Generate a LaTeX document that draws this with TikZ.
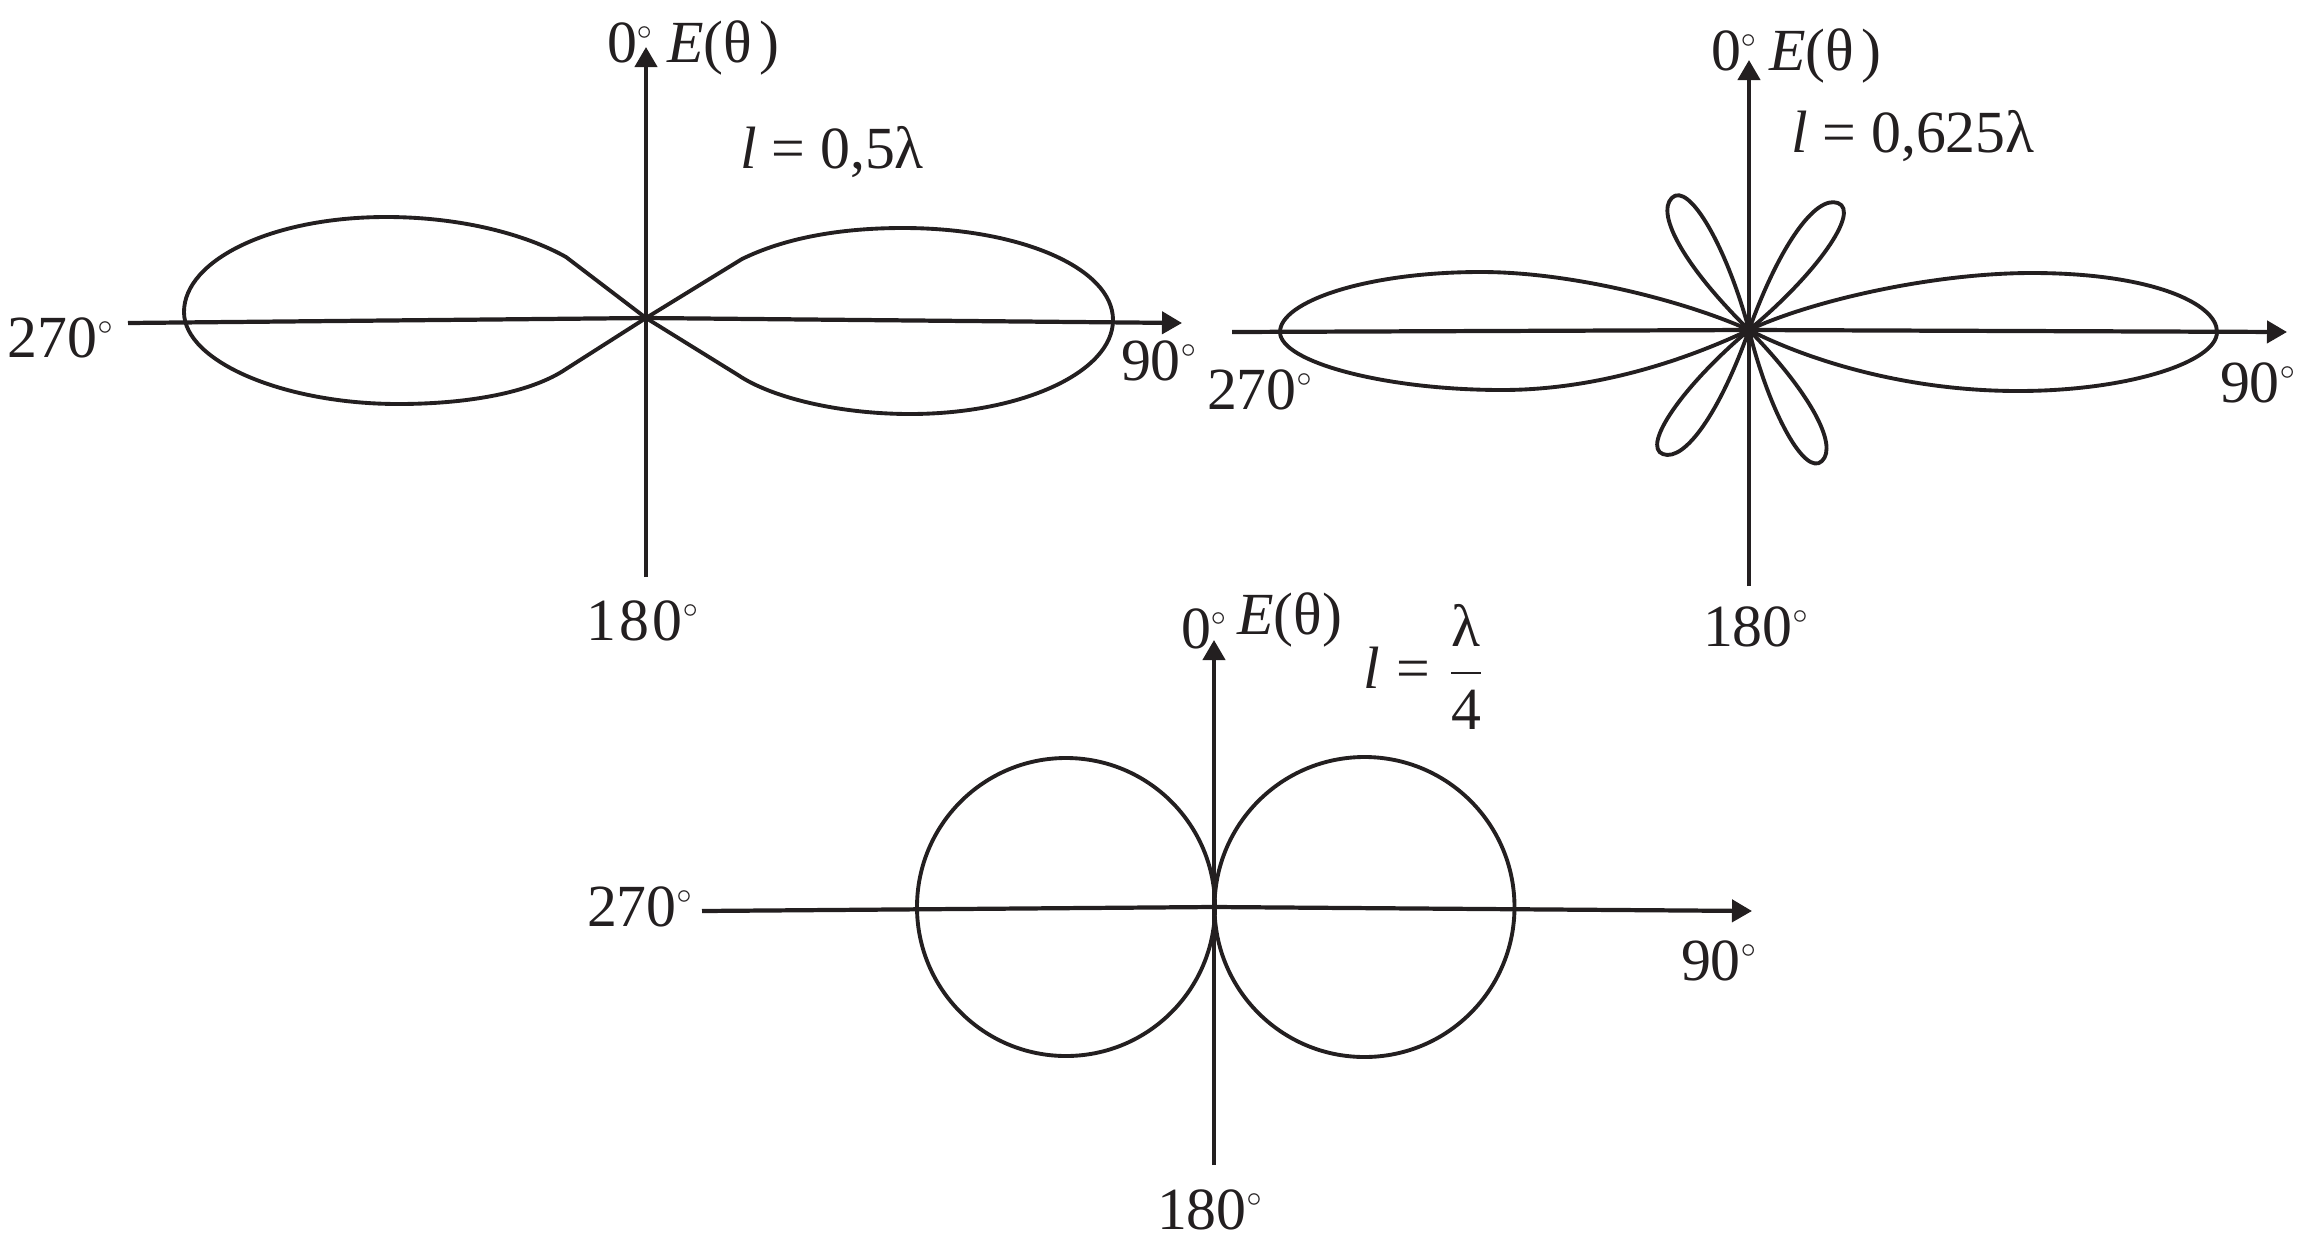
\documentclass[tikz,border=0pt]{standalone}
\usepackage{fontspec}
\setmainfont{Liberation Serif}
\usetikzlibrary{arrows.meta}
\definecolor{ink}{RGB}{35,31,32}
\newcommand{\dg}{$^{\scriptscriptstyle\circ}$}
\tikzset{
  axisline/.style={draw=ink, line width=1.2pt},
  axisarrow/.style={axisline, -{Triangle[length=0.2cm,width=0.22cm]}},
  lobe/.style={draw=ink, line width=1.1pt, line join=round},
  lbl/.style={inner sep=0pt, outer sep=0pt, anchor=base west, text=ink,
    font=\fontsize{17pt}{20pt}\selectfont},
  pics/petal/.style={code={
    \draw[lobe] (0,0) .. controls (0.55,0.15) and (1.04,0.15) .. (1,0)
                      .. controls (0.96,-0.15) and (0.55,-0.15) .. (0,0);}},
}
\begin{document}
\begin{tikzpicture}[x=0.01cm,y=-0.01cm]
\useasboundingbox (0,0) rectangle (2302,1239);

% ================= Panel 1 : l = 0,5 lambda =================
\coordinate (c1) at (646,318);
\coordinate (l1) at (128,323);
\coordinate (r1) at (1182,323);
\coordinate (t1) at (646,47);
\coordinate (b1) at (646,577);
\draw[axisarrow] (b1) -- (t1);
\draw[axisarrow] (l1) -- (c1) -- (r1);

\draw[lobe] (c1) -- (566,257)
  .. controls (525,234) and (460,217) .. (386,217)
  .. controls (272,217) and (184,260) .. (184,312)
  .. controls (184,362) and (285,404) .. (398,404)
  .. controls (470,404) and (532,392) .. (566,369) -- (c1);
\draw[lobe] (c1) -- (742,259)
  .. controls (785,238) and (840,228) .. (903,228)
  .. controls (1020,228) and (1113,268) .. (1113,320)
  .. controls (1113,372) and (1022,414) .. (910,414)
  .. controls (840,414) and (772,398) .. (738,375) -- (c1);

\node[lbl] (p1zero) at (607,62) {0\dg};
\node[lbl] (p1E) at (667,62) {\textit{E}(θ\kern0.12em)};
\node[lbl] (p1l) at (740,168) {\textit{l} = 0,5λ};
\node[lbl] (p1w) at (8,357) {270\dg};
\node[lbl] (p1e) at (1121,380) {90\dg};
\node[lbl] (p1s) at (586,640) {1\kern0.06em 8\kern0.06em 0\dg};

% ================= Panel 2 : l = 0,625 lambda =================
\coordinate (c2) at (1749,330);
\coordinate (l2) at (1232,332);
\coordinate (r2) at (2287,332);
\coordinate (t2) at (1749,60);
\coordinate (b2) at (1749,586);
\draw[axisarrow] (b2) -- (t2);
\draw[axisarrow] (l2) -- (c2) -- (r2);

% main lobes
\draw[lobe] (c2)
  .. controls (1690,303) and (1575,272) .. (1481,272)
  .. controls (1365,272) and (1280,302) .. (1280,332)
  .. controls (1280,362) and (1385,390) .. (1502,390)
  .. controls (1600,390) and (1690,358) .. (c2);
\draw[lobe] (c2)
  .. controls (1808,302) and (1930,273) .. (2032,273)
  .. controls (2150,273) and (2217,303) .. (2217,332)
  .. controls (2217,362) and (2128,391) .. (2018,391)
  .. controls (1905,391) and (1808,360) .. (c2);
% side lobes
\pic[shift={(c2)}, rotate=120.3, scale=153] {petal};
\pic[shift={(c2)}, rotate=55, scale=155] {petal};
\pic[shift={(c2)}, rotate=-124.7, scale=151] {petal};
\pic[shift={(c2)}, rotate=-60.9, scale=150] {petal};

\node[lbl] (p2zero) at (1711,70) {0\dg};
\node[lbl] (p2E) at (1769,70) {\textit{E}(θ\kern0.12em)};
\node[lbl] (p2l) at (1791,152) {\textit{l} = 0,625λ};
\node[lbl] (p2w) at (1207,409) {270\dg};
\node[lbl] (p2e) at (2220,402) {90\dg};
\node[lbl] (p2s) at (1703,646) {180\dg};

% ================= Panel 3 : l = lambda/4 =================
\coordinate (c3) at (1214,907);
\coordinate (l3) at (702,911);
\coordinate (r3) at (1752,911);
\coordinate (t3) at (1214,640);
\coordinate (b3) at (1214,1165);
\draw[axisarrow] (b3) -- (t3);
\draw[axisarrow] (l3) -- (c3) -- (r3);

\draw[lobe] (1066,907) circle[radius=149];
\draw[lobe] (1364.5,907) circle[radius=150];

\node[lbl] (p3zero) at (1181,648) {0\dg};
\node[lbl] (p3E) at (1237,634) {\textit{E}(θ)};
\node[lbl] (p3l) at (1363,688) {$\displaystyle \hbox{\textit{l}}\mathrel{\hbox{=}}\frac{\hbox{λ}}{\hbox{4}}$};
\node[lbl] (p3w) at (587,926) {270\dg};
\node[lbl] (p3e) at (1681,980) {90\dg};
\node[lbl] (p3s) at (1157,1229) {180\dg};
\end{tikzpicture}
\end{document}
